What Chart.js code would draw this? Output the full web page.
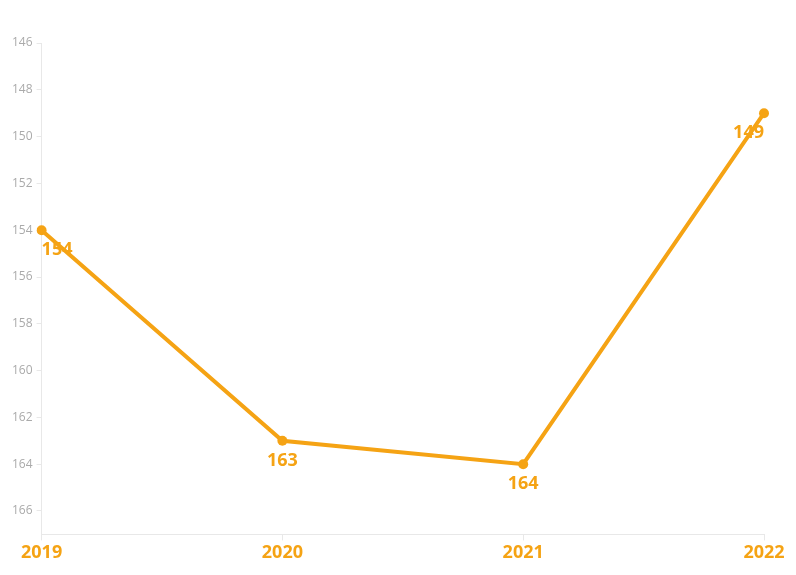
<!DOCTYPE html>
<html>
<head>
<meta charset="utf-8">
<script src="https://cdn.jsdelivr.net/npm/chart.js@4"></script>
<style>
  html, body { margin: 0; padding: 0; background: #fff; }
  #wrap { width: 796px; height: 575px; }
</style>
</head>
<body>
<div id="wrap"><canvas id="chart"></canvas></div>
<script>
const years = ["2019", "2020", "2021", "2022"];
const values = [154, 163, 164, 149];
const yTicks = [146, 148, 150, 152, 154, 156, 158, 160, 162, 164, 166];

const ORANGE = "#f5a314";

// draw value labels under each point, kept inside the plot area
const valueLabels = {
    id: "valueLabels",
    afterDatasetsDraw(chart) {
        const ctx = chart.ctx;
        const area = chart.chartArea;
        const meta = chart.getDatasetMeta(0);
        ctx.save();
        ctx.font = "bold 18px 'Open Sans', sans-serif";
        ctx.fillStyle = ORANGE;
        ctx.textBaseline = "middle";
        meta.data.forEach((pt, i) => {
            const text = String(values[i]);
            const w = ctx.measureText(text).width;
            let x = pt.x - w / 2;
            if (x < area.left) x = area.left;
            if (x + w > area.right) x = area.right - w;
            ctx.textAlign = "left";
            ctx.fillText(text, x, pt.y + 20);
        });
        ctx.restore();
    }
};

new Chart(document.getElementById("chart"), {
    type: "line",
    data: {
        labels: years,
        datasets: [{
            data: values,
            borderColor: ORANGE,
            backgroundColor: ORANGE,
            borderWidth: 4,
            pointRadius: 5,
            pointBorderWidth: 0,
            tension: 0
        }]
    },
    options: {
        responsive: true,
        maintainAspectRatio: false,
        animation: false,
        layout: { padding: { top: 43, right: 32, bottom: 9, left: 8 } },
        plugins: { legend: { display: false }, tooltip: { enabled: false } },
        scales: {
            x: {
                offset: false,
                grid: { drawOnChartArea: false, drawTicks: true, tickLength: 6, color: "#e8e8e8" },
                border: { color: "#e8e8e8" },
                ticks: {
                    color: ORANGE,
                    font: { family: "'Open Sans', sans-serif", size: 18, weight: "bold" },
                    padding: 2,
                    maxRotation: 0
                }
            },
            y: {
                reverse: true,
                min: 146,
                max: 167,
                afterBuildTicks: (axis) => { axis.ticks = yTicks.map(v => ({ value: v })); },
                grid: { drawOnChartArea: false, drawTicks: true, tickLength: 5, color: "#e8e8e8" },
                border: { color: "#e8e8e8" },
                ticks: {
                    color: "#aaaaaa",
                    font: { family: "'Open Sans', sans-serif", size: 12 },
                    padding: 4
                }
            }
        }
    },
    plugins: [valueLabels]
});
</script>
</body>
</html>
